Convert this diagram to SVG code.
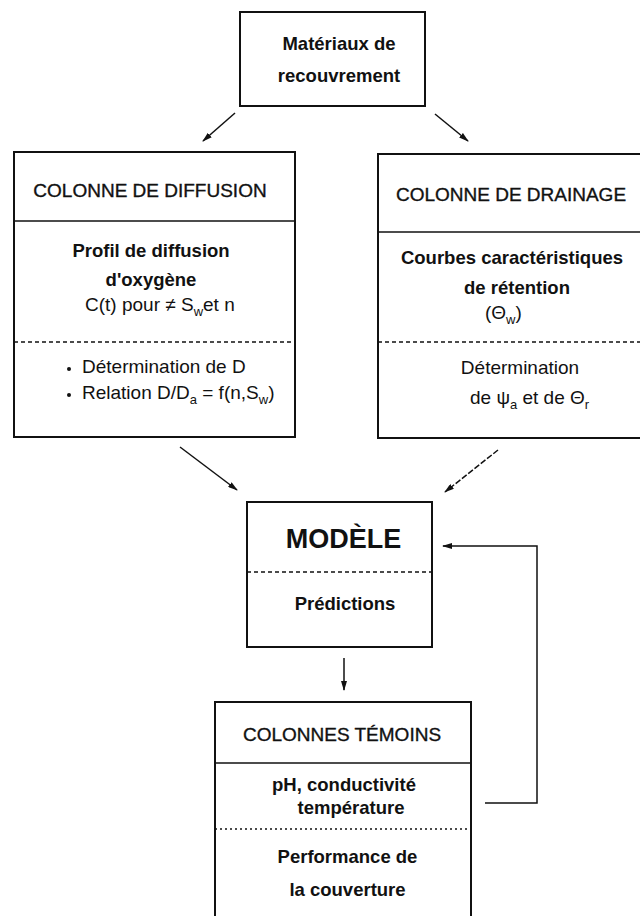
<svg xmlns="http://www.w3.org/2000/svg" width="640" height="916" viewBox="0 0 640 916">
  <style>
    .box { fill: #fff; stroke: #111; stroke-width: 2; }
    .sep { stroke: #111; stroke-width: 1.6; fill: none; }
    .dash { stroke: #111; stroke-width: 1.5; stroke-dasharray: 4 3; fill: none; }
    .dot { stroke: #111; stroke-width: 1.3; stroke-dasharray: 2 3; fill: none; }
    .con { stroke: #111; stroke-width: 1.5; fill: none; }
    text { font-family: "Liberation Sans", Arial, sans-serif; fill: #111; }
    .hd { font-size: 19px; stroke: #111; stroke-width: 0.35; }
    .b { font-size: 18.5px; font-weight: bold; }
    .r { font-size: 19px; }
    .big { font-size: 27px; font-weight: bold; }
    .c { text-anchor: middle; }
    .sub { font-size: 13px; }
  </style>
  <defs>
    <marker id="arrow" viewBox="0 0 10 6" refX="9" refY="3" markerWidth="10" markerHeight="6" markerUnits="userSpaceOnUse" orient="auto">
      <path d="M0,0 L10,3 L0,6 Z" fill="#111"/>
    </marker>
  </defs>

  <!-- connectors -->
  <g id="connectors">
    <line class="con" x1="235" y1="113" x2="203" y2="141" marker-end="url(#arrow)"/>
    <line class="con" x1="435" y1="114" x2="468" y2="141" marker-end="url(#arrow)"/>
    <line class="con" x1="180" y1="447" x2="237" y2="490" marker-end="url(#arrow)"/>
    <line class="con" x1="498" y1="450" x2="445" y2="492" stroke-dasharray="6 2" marker-end="url(#arrow)"/>
    <line class="con" x1="344" y1="658" x2="344" y2="690" marker-end="url(#arrow)"/>
    <polyline class="con" points="485,803 537,803 537,546 443,546" marker-end="url(#arrow)"/>
  </g>

  <!-- cover materials -->
  <g id="materiaux">
    <rect class="box" x="240" y="12" width="185" height="94"/>
    <text class="b c" x="339" y="49.5">Matériaux de</text>
    <text class="b c" x="339" y="82">recouvrement</text>
  </g>

  <!-- diffusion column -->
  <g id="diffusion">
    <rect class="box" x="14" y="152" width="281" height="285"/>
    <line class="sep" x1="14" y1="221" x2="295" y2="221"/>
    <line class="dash" x1="14" y1="342" x2="295" y2="342"/>
    <text class="hd c" x="150" y="196.5">COLONNE DE DIFFUSION</text>
    <text class="b c" x="151" y="257">Profil de diffusion</text>
    <text class="b c" x="151" y="286">d'oxygène</text>
    <text class="r" x="85" y="311">C(t) pour ≠ S<tspan class="sub" dy="5">w</tspan><tspan dy="-5">et n</tspan></text>
    <circle cx="69" cy="369" r="2" fill="#111"/>
    <text class="r" x="82" y="373">Détermination de D</text>
    <circle cx="69" cy="395" r="2" fill="#111"/>
    <text class="r" x="82" y="399">Relation D/D<tspan class="sub" dy="5">a</tspan><tspan dy="-5"> = f(n,S</tspan><tspan class="sub" dy="5">w</tspan><tspan dy="-5">)</tspan></text>
  </g>

  <!-- drainage column -->
  <g id="drainage">
    <rect class="box" x="378" y="154" width="272" height="284"/>
    <line class="sep" x1="378" y1="232" x2="650" y2="232"/>
    <line class="dash" x1="378" y1="342" x2="650" y2="342"/>
    <text class="hd c" x="511" y="201">COLONNE DE DRAINAGE</text>
    <text class="b c" x="512" y="264">Courbes caractéristiques</text>
    <text class="b c" x="517" y="294">de rétention</text>
    <text class="r" x="485" y="319">(Θ<tspan class="sub" dy="5">w</tspan><tspan dy="-5">)</tspan></text>
    <text class="r c" x="520" y="374">Détermination</text>
    <text class="r" x="470" y="404">de ψ<tspan class="sub" dy="5">a</tspan><tspan dy="-5"> et de Θ</tspan><tspan class="sub" dy="5">r</tspan></text>
  </g>

  <!-- model -->
  <g id="modele">
    <rect class="box" x="247" y="502" width="185" height="145"/>
    <line class="dash" x1="247" y1="572" x2="432" y2="572"/>
    <text class="big c" x="343.5" y="548">MODÈLE</text>
    <text class="b c" x="345" y="610">Prédictions</text>
  </g>

  <!-- control columns -->
  <g id="temoins">
    <rect class="box" x="215" y="702" width="256" height="230"/>
    <line class="sep" x1="215" y1="763" x2="471" y2="763"/>
    <line class="dot" x1="215" y1="829" x2="471" y2="829"/>
    <text class="hd c" x="342" y="741">COLONNES TÉMOINS</text>
    <text class="b c" x="344" y="791">pH, conductivité</text>
    <text class="b c" x="351" y="814">température</text>
    <text class="b c" x="347.5" y="863">Performance de</text>
    <text class="b c" x="347.5" y="896">la couverture</text>
  </g>
</svg>
